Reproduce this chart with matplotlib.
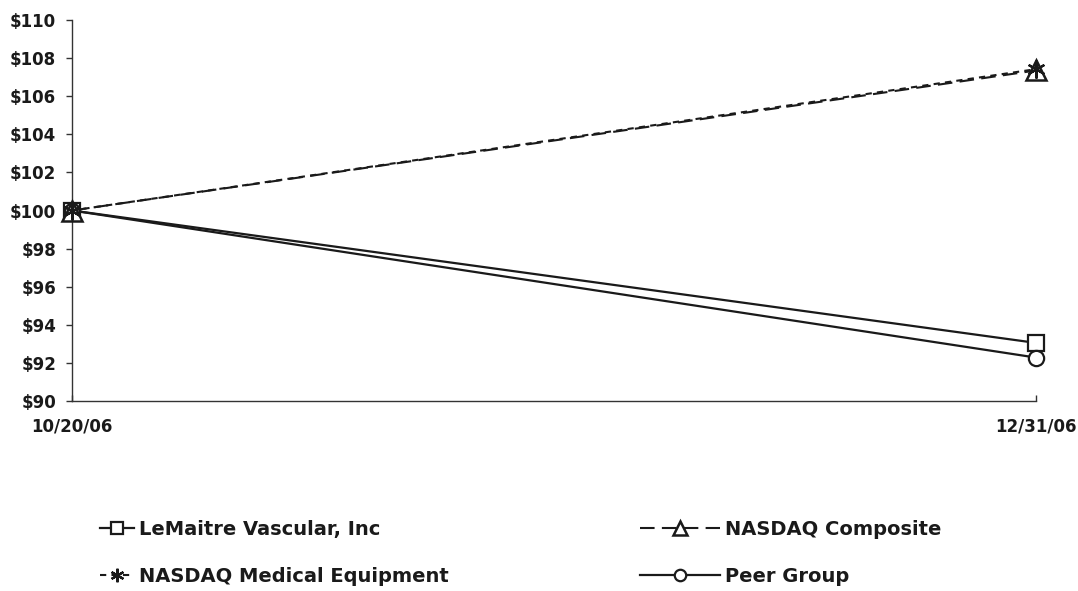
import matplotlib
matplotlib.use("Agg")
import matplotlib.pyplot as plt

plt.rcParams['font.family'] = ['DejaVu Sans']
plt.rcParams['font.weight'] = 'bold'

dates = ["10/20/06", "12/31/06"]
lemaitre = [100.0, 93.05]
nasdaq_comp = [100.0, 107.35]
nasdaq_med = [100.0, 107.42]
peer = [100.0, 92.28]
yticks = list(range(90, 111, 2))

INK = '#1a1a1a'
fig = plt.figure(figsize=(10.78, 5.91), dpi=100)
ax = fig.add_axes([72/1078, 1-401/591, (1036-72)/1078, (401-20)/591])

x = list(range(len(dates)))
l1, = ax.plot(x, lemaitre, color=INK, lw=1.6, ls='-', marker='s', ms=11,
              mfc='white', mec=INK, mew=1.6, label='LeMaitre Vascular, Inc', clip_on=False, zorder=3)
l4, = ax.plot(x, peer, color=INK, lw=1.6, ls='-', marker='o', ms=11,
              mfc='white', mec=INK, mew=1.6, label='Peer Group', clip_on=False, zorder=3)
l2, = ax.plot(x, nasdaq_comp, color=INK, lw=1.5, ls=(0, (7, 3.5)), marker='^', ms=14,
              mfc='white', mec=INK, mew=1.8, label='NASDAQ Composite', clip_on=False, zorder=4)
l3, = ax.plot(x, nasdaq_med, color=INK, lw=1.5, ls=(0, (3, 2.5)), marker=(6, 2, 0), ms=13,
              mec=INK, mew=1.6, label='NASDAQ Medical Equipment', clip_on=False, zorder=5)

ax.set_xlim(0, 1)
ax.set_ylim(90, 110)
ax.set_yticks(yticks)
ax.set_yticklabels([f"${v}" for v in yticks], fontsize=12, fontweight='bold', color=INK)
ax.set_xticks(x)
ax.set_xticklabels(dates, fontsize=12, fontweight='bold', color=INK)
ax.tick_params(axis='y', direction='out', length=4.5, width=1, color='#333333', pad=7)
ax.tick_params(axis='x', direction='in', length=4.5, width=1, color='#333333', pad=12)
for s in ['top', 'right']:
    ax.spines[s].set_visible(False)
for s in ['left', 'bottom']:
    ax.spines[s].set_color('#333333')
    ax.spines[s].set_linewidth(1)

fs = 14
common = dict(frameon=False, prop={'weight': 'bold', 'size': fs}, labelspacing=1.45,
              borderaxespad=0, borderpad=0, numpoints=1, markerscale=0.75,
              handletextpad=0.25, labelcolor=INK)
leg1 = fig.legend(handles=[l1, l3], loc='center left', bbox_to_anchor=(100/1078, 1-553/591),
                  handlelength=1.75, **common)
leg2 = fig.legend(handles=[l2, l4], loc='center left', bbox_to_anchor=(640/1078, 1-553/591),
                  handlelength=4.1, **common)

fig.savefig("out.png", dpi=100)
